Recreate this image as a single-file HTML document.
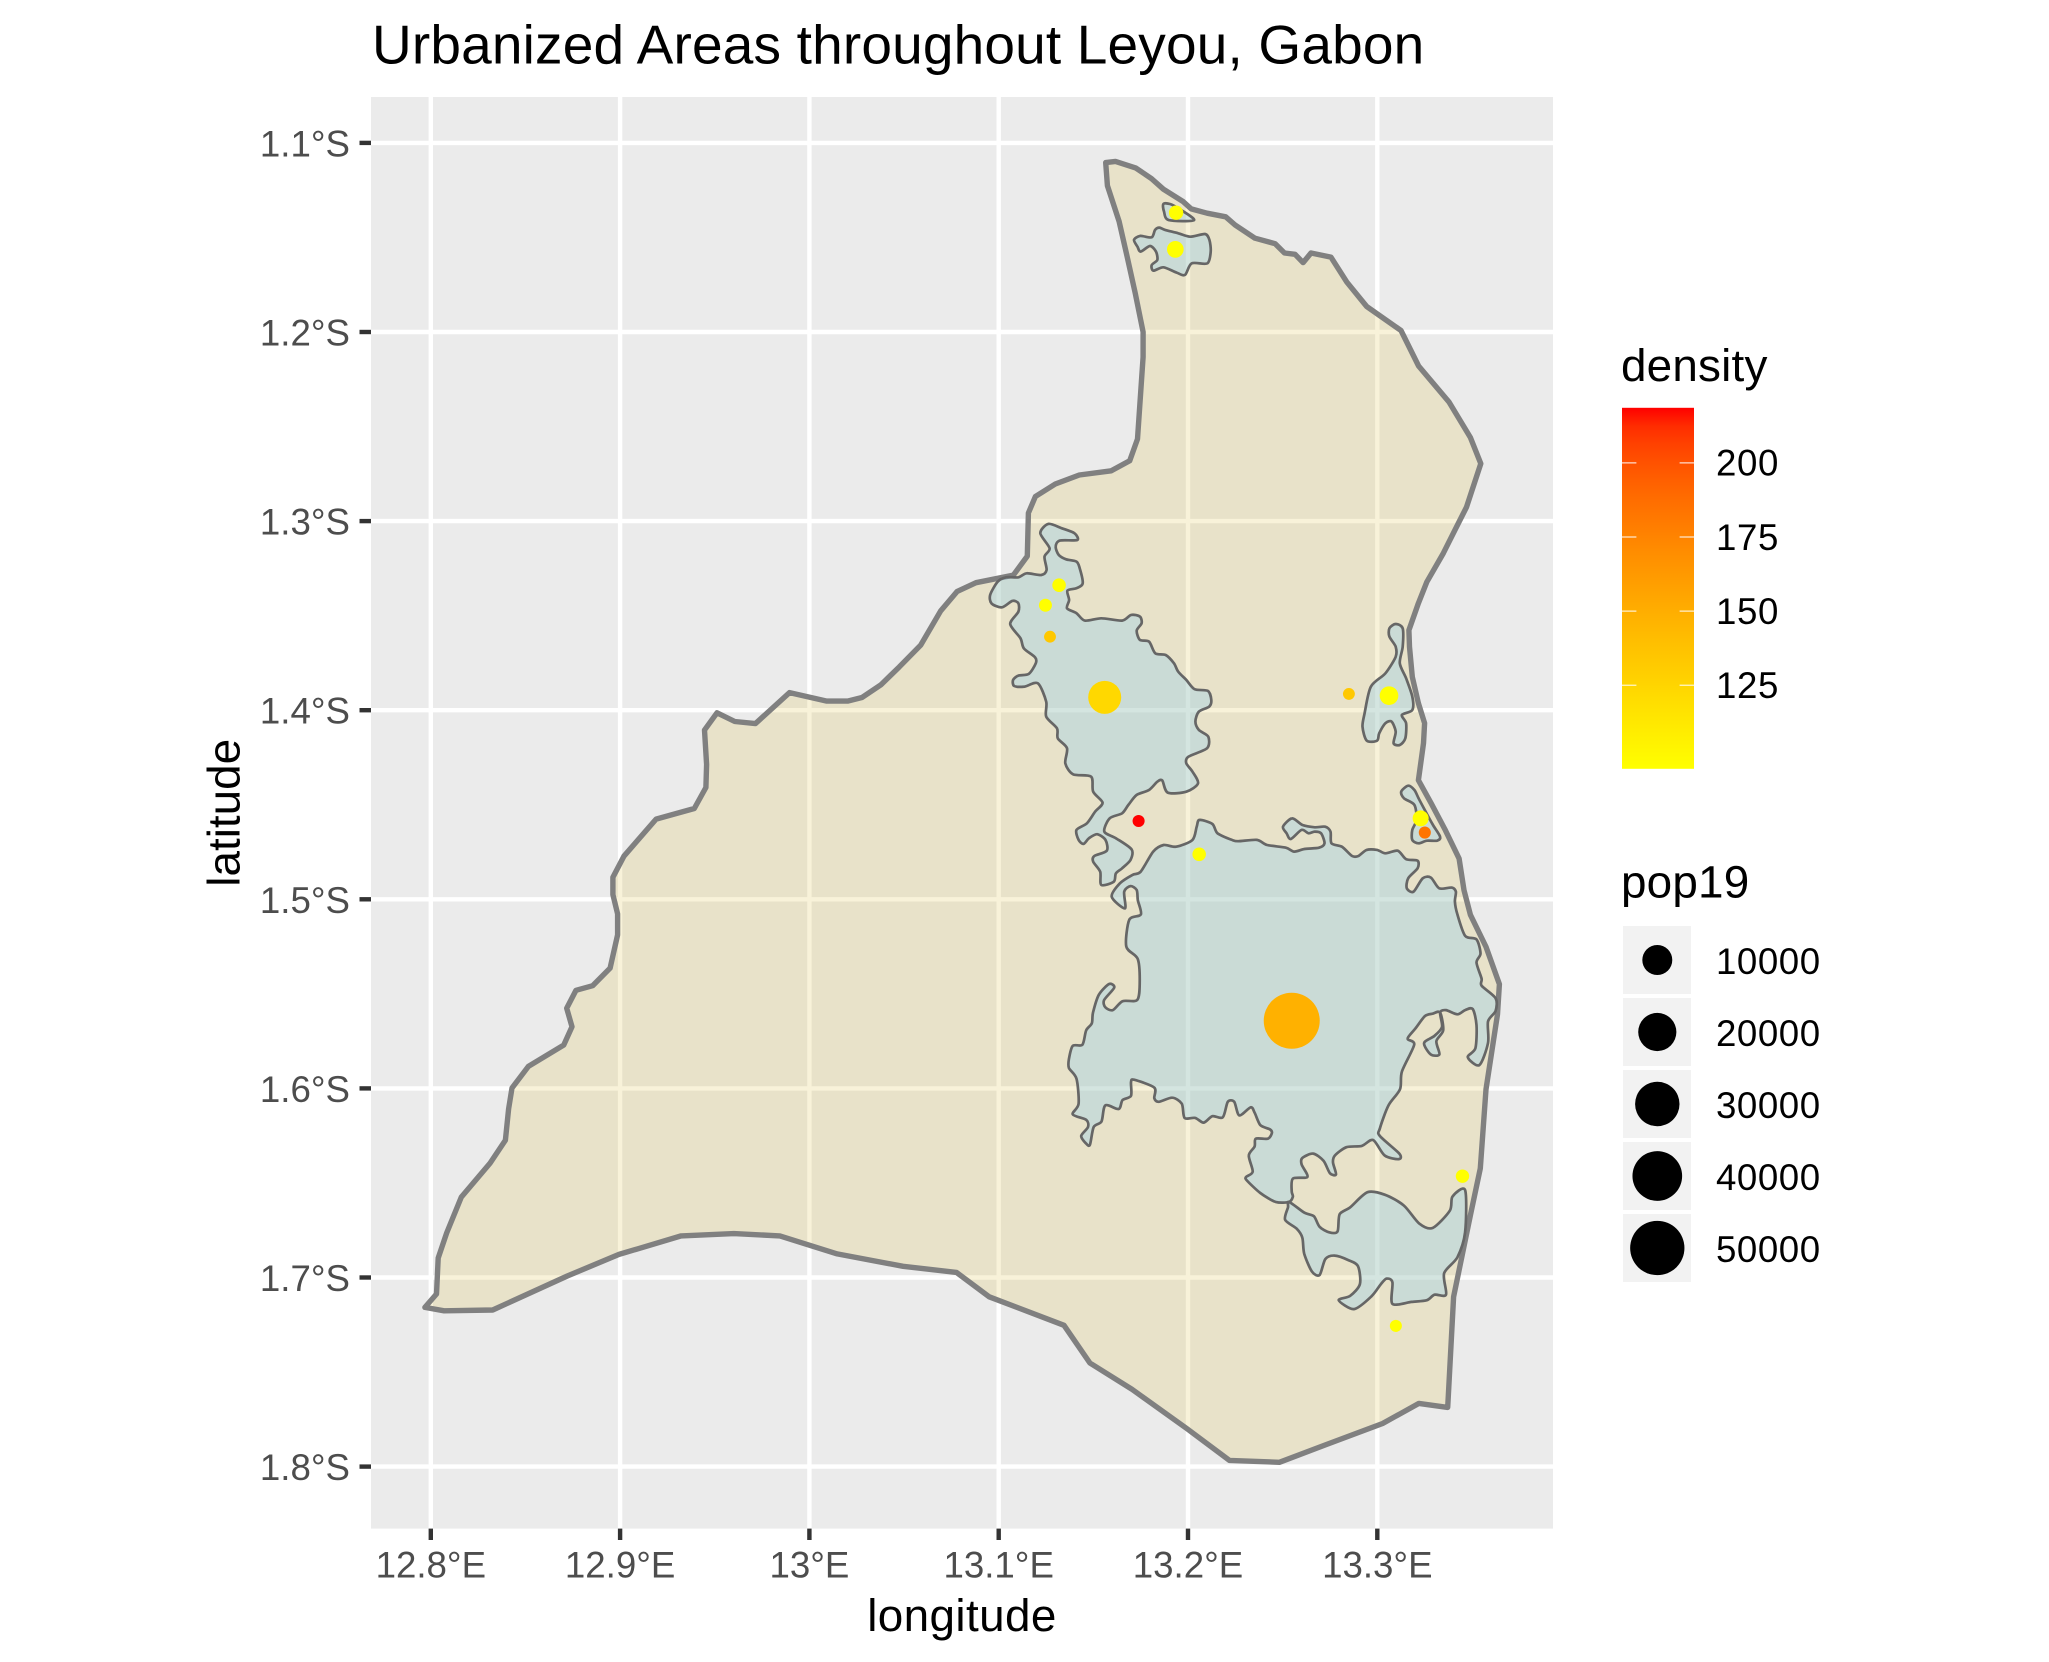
<!DOCTYPE html>
<html lang="en">
<head>
<meta charset="utf-8">
<title>Urbanized Areas throughout Leyou, Gabon</title>
<style>
html,body{margin:0;padding:0;background:#fff;}
svg{display:block;}
text{font-family:"Liberation Sans",Arial,sans-serif;}
</style>
</head>
<body>
<svg id="chart" xmlns="http://www.w3.org/2000/svg" width="2049" height="1662" viewBox="0 0 2049 1662">
  <defs>
    <linearGradient id="density-gradient" x1="0" y1="1" x2="0" y2="0"></linearGradient>
  </defs>
  <rect x="0" y="0" width="2049" height="1662" fill="#ffffff"/>
  <text x="372" y="63.5" font-size="55" letter-spacing="0.17" fill="#000000">Urbanized Areas throughout Leyou, Gabon</text>
  <rect x="371" y="97" width="1182" height="1431.6" fill="#ebebeb"/>
  <g id="grid"></g>
  <g id="regions"></g>
  <g id="places"></g>
  <g id="x-axis"></g>
  <g id="y-axis"></g>
  <text x="962" y="1631" font-size="45.83" letter-spacing="0.4" text-anchor="middle" fill="#000000">longitude</text>
  <text transform="translate(239.3 812.8) rotate(-90)" font-size="45.83" text-anchor="middle" fill="#000000">latitude</text>
  <text x="1621" y="381" font-size="45.83" letter-spacing="0.2" fill="#000000">density</text>
  <rect x="1622" y="407.8" width="72" height="361" fill="url(#density-gradient)"/>
  <g id="density-legend"></g>
  <text x="1621" y="897.6" font-size="45.83" letter-spacing="0.2" fill="#000000">pop19</text>
  <g id="size-legend"></g>
</svg>
<script>
const lonTicks = [12.8, 12.9, 13.0, 13.1, 13.2, 13.3];
const lonTickLabels = ["12.8°E", "12.9°E", "13°E", "13.1°E", "13.2°E", "13.3°E"];
const latTicks = [1.1, 1.2, 1.3, 1.4, 1.5, 1.6, 1.7, 1.8];
const latTickLabels = ["1.1°S", "1.2°S", "1.3°S", "1.4°S", "1.5°S", "1.6°S", "1.7°S", "1.8°S"];

const boundaryLon = [13.1565,13.1617,13.1723,13.1807,13.1870,13.1975,13.2017,13.2101,13.2199,13.2249,13.2354,13.2460,13.2510,13.2565,13.2608,13.2650,13.2755,13.2839,13.2944,13.3125,13.3218,13.3379,13.3492,13.3547,13.3471,13.3415,13.3349,13.3262,13.3217,13.3167,13.3170,13.3185,13.3217,13.3250,13.3244,13.3217,13.3284,13.3360,13.3432,13.3458,13.3492,13.3574,13.3645,13.3635,13.3574,13.3544,13.3493,13.3403,13.3372,13.3220,13.3028,13.2724,13.2483,13.2219,13.1997,13.1704,13.1482,13.1345,13.0950,13.0777,13.0495,13.0147,12.9844,12.9601,12.9322,12.8994,12.8721,12.8327,12.8070,12.7969,12.8030,12.8039,12.8084,12.8161,12.8313,12.8394,12.8411,12.8429,12.8516,12.8702,12.8746,12.8718,12.8767,12.8855,12.8947,12.8987,12.8987,12.8962,12.8962,12.9020,12.9190,12.9392,12.9453,12.9457,12.9446,12.9512,12.9606,12.9715,12.9895,13.0092,13.0202,13.0278,13.0377,13.0475,13.0588,13.0694,13.0781,13.0880,13.1077,13.1151,13.1157,13.1194,13.1299,13.1426,13.1595,13.1692,13.1733,13.1763,13.1763,13.1721,13.1679,13.1636,13.1574];
const boundaryLat = [1.1104,1.1098,1.1132,1.1189,1.1245,1.1311,1.1349,1.1372,1.1391,1.1434,1.1504,1.1533,1.1582,1.1589,1.1633,1.1582,1.1604,1.1736,1.1865,1.1992,1.2180,1.2370,1.2558,1.2696,1.2926,1.3037,1.3169,1.3321,1.3434,1.3577,1.3665,1.3824,1.3963,1.4069,1.4175,1.4370,1.4492,1.4635,1.4785,1.4952,1.5082,1.5251,1.5449,1.5608,1.6005,1.6423,1.6666,1.7102,1.7687,1.7666,1.7772,1.7886,1.7977,1.7967,1.7801,1.7591,1.7452,1.7253,1.7102,1.6973,1.6941,1.6875,1.6780,1.6768,1.6780,1.6878,1.6992,1.7172,1.7176,1.7158,1.7087,1.6897,1.6764,1.6575,1.6395,1.6274,1.6109,1.5998,1.5883,1.5771,1.5674,1.5576,1.5481,1.5457,1.5364,1.5188,1.5077,1.4975,1.4883,1.4772,1.4576,1.4520,1.4409,1.4287,1.4105,1.4014,1.4060,1.4071,1.3907,1.3952,1.3952,1.3933,1.3866,1.3771,1.3656,1.3474,1.3372,1.3326,1.3286,1.3185,1.2957,1.2870,1.2804,1.2756,1.2734,1.2681,1.2566,1.2132,1.2000,1.1794,1.1603,1.1415,1.1226];

const urbanCentralLon = [13.1262,13.1334,13.1400,13.1415,13.1323,13.1301,13.1317,13.1356,13.1411,13.1428,13.1444,13.1411,13.1363,13.1372,13.1361,13.1411,13.1455,13.1542,13.1652,13.1700,13.1746,13.1755,13.1729,13.1746,13.1794,13.1827,13.1882,13.1926,13.1948,13.1991,13.2035,13.2105,13.2123,13.2112,13.2057,13.2039,13.2057,13.2107,13.2101,13.2002,13.1991,13.2024,13.2053,13.1991,13.1893,13.1864,13.1838,13.1794,13.1729,13.1685,13.1652,13.1586,13.1558,13.1619,13.1702,13.1696,13.1652,13.1619,13.1608,13.1542,13.1536,13.1499,13.1505,13.1571,13.1564,13.1520,13.1477,13.1448,13.1422,13.1411,13.1466,13.1510,13.1549,13.1499,13.1488,13.1393,13.1352,13.1361,13.1312,13.1308,13.1251,13.1251,13.1207,13.1137,13.1082,13.1076,13.1104,13.1159,13.1196,13.1192,13.1133,13.1115,13.1061,13.1104,13.1104,13.1072,13.1017,13.0962,13.0955,13.0995,13.1039,13.1104,13.1148,13.1225,13.1253,13.1242,13.1269,13.1220];
const urbanCentralLat = [1.3015,1.3038,1.3064,1.3100,1.3103,1.3135,1.3179,1.3202,1.3214,1.3249,1.3329,1.3355,1.3368,1.3417,1.3461,1.3487,1.3526,1.3514,1.3526,1.3496,1.3505,1.3540,1.3579,1.3628,1.3637,1.3699,1.3708,1.3752,1.3796,1.3840,1.3889,1.3898,1.3946,1.3981,1.4008,1.4060,1.4104,1.4140,1.4201,1.4246,1.4281,1.4325,1.4387,1.4431,1.4436,1.4372,1.4378,1.4422,1.4448,1.4501,1.4545,1.4572,1.4642,1.4677,1.4736,1.4792,1.4836,1.4863,1.4907,1.4924,1.4854,1.4801,1.4771,1.4743,1.4686,1.4656,1.4677,1.4707,1.4686,1.4633,1.4598,1.4536,1.4489,1.4431,1.4351,1.4339,1.4281,1.4201,1.4149,1.4096,1.4034,1.3955,1.3858,1.3875,1.3872,1.3840,1.3817,1.3808,1.3752,1.3720,1.3673,1.3620,1.3544,1.3479,1.3435,1.3422,1.3456,1.3435,1.3390,1.3320,1.3297,1.3297,1.3276,1.3285,1.3258,1.3188,1.3144,1.3064];

const urbanEastLon = [13.3097,13.3134,13.3134,13.3119,13.3152,13.3185,13.3185,13.3130,13.3152,13.3148,13.3119,13.3086,13.3097,13.3075,13.3043,13.3010,13.2999,13.2944,13.2922,13.2933,13.2966,13.3043,13.3097,13.3097,13.3064,13.3064];
const urbanEastLat = [1.3544,1.3567,1.3664,1.3752,1.3831,1.3928,1.3999,1.4025,1.4069,1.4149,1.4184,1.4175,1.4113,1.4060,1.4069,1.4122,1.4161,1.4161,1.4087,1.4016,1.3875,1.3805,1.3717,1.3664,1.3611,1.3567];

const urbanCoastLon = [13.3163,13.3196,13.3218,13.3251,13.3294,13.3332,13.3316,13.3262,13.3218,13.3185,13.3185,13.3207,13.3196,13.3141,13.3126];
const urbanCoastLat = [1.4399,1.4422,1.4466,1.4528,1.4607,1.4669,1.4690,1.4690,1.4704,1.4686,1.4633,1.4580,1.4501,1.4466,1.4431];

const urbanMainLon = [13.2061,13.2129,13.2156,13.2232,13.2265,13.2364,13.2418,13.2517,13.2561,13.2615,13.2692,13.2721,13.2703,13.2670,13.2637,13.2600,13.2543,13.2521,13.2502,13.2550,13.2605,13.2670,13.2725,13.2753,13.2758,13.2813,13.2867,13.2900,13.2944,13.2999,13.3043,13.3108,13.3152,13.3213,13.3213,13.3163,13.3156,13.3191,13.3240,13.3283,13.3327,13.3393,13.3415,13.3410,13.3423,13.3464,13.3524,13.3545,13.3524,13.3551,13.3551,13.3625,13.3625,13.3585,13.3585,13.3539,13.3478,13.3518,13.3524,13.3504,13.3464,13.3423,13.3363,13.3332,13.3342,13.3302,13.3247,13.3282,13.3328,13.3312,13.3348,13.3332,13.3292,13.3251,13.3201,13.3160,13.3195,13.3130,13.3120,13.3059,13.3013,13.3013,13.3116,13.3114,13.3039,13.2978,13.2918,13.2837,13.2776,13.2766,13.2782,13.2750,13.2716,13.2661,13.2604,13.2600,13.2631,13.2554,13.2548,13.2554,13.2534,13.2463,13.2382,13.2311,13.2307,13.2342,13.2321,13.2352,13.2358,13.2422,13.2443,13.2433,13.2382,13.2352,13.2331,13.2271,13.2244,13.2210,13.2184,13.2129,13.2083,13.2038,13.1982,13.1967,13.1917,13.1846,13.1822,13.1822,13.1715,13.1699,13.1699,13.1654,13.1634,13.1563,13.1543,13.1502,13.1482,13.1462,13.1436,13.1472,13.1462,13.1391,13.1422,13.1411,13.1371,13.1371,13.1391,13.1442,13.1462,13.1492,13.1498,13.1529,13.1583,13.1610,13.1557,13.1563,13.1603,13.1654,13.1731,13.1745,13.1735,13.1674,13.1690,13.1751,13.1735,13.1729,13.1696,13.1663,13.1667,13.1597,13.1641,13.1707,13.1750,13.1816,13.1871,13.1937,13.2024,13.2046];
const urbanMainLat = [1.4580,1.4602,1.4651,1.4686,1.4693,1.4686,1.4713,1.4727,1.4748,1.4734,1.4727,1.4704,1.4651,1.4642,1.4651,1.4633,1.4681,1.4651,1.4616,1.4572,1.4607,1.4619,1.4616,1.4642,1.4704,1.4722,1.4771,1.4771,1.4739,1.4739,1.4757,1.4743,1.4788,1.4796,1.4836,1.4889,1.4942,1.4960,1.4889,1.4885,1.4942,1.4938,1.4960,1.5012,1.5080,1.5193,1.5212,1.5287,1.5335,1.5420,1.5457,1.5523,1.5590,1.5646,1.5760,1.5877,1.5835,1.5788,1.5665,1.5580,1.5586,1.5608,1.5586,1.5599,1.5675,1.5722,1.5760,1.5820,1.5820,1.5750,1.5693,1.5599,1.5605,1.5618,1.5684,1.5737,1.5769,1.5911,1.6005,1.6090,1.6213,1.6251,1.6345,1.6374,1.6355,1.6273,1.6304,1.6311,1.6355,1.6392,1.6455,1.6449,1.6383,1.6345,1.6368,1.6402,1.6468,1.6477,1.6544,1.6572,1.6600,1.6600,1.6553,1.6487,1.6468,1.6440,1.6355,1.6307,1.6266,1.6266,1.6236,1.6217,1.6194,1.6128,1.6100,1.6143,1.6071,1.6071,1.6153,1.6147,1.6181,1.6156,1.6156,1.6081,1.6049,1.6071,1.6052,1.5996,1.5954,1.5967,1.6039,1.6062,1.6109,1.6090,1.6175,1.6204,1.6298,1.6292,1.6251,1.6204,1.6166,1.6137,1.6081,1.5949,1.5892,1.5845,1.5775,1.5769,1.5693,1.5656,1.5599,1.5505,1.5448,1.5467,1.5533,1.5571,1.5586,1.5539,1.5533,1.5448,1.5316,1.5250,1.5108,1.5080,1.5004,1.4951,1.4930,1.4960,1.5048,1.4986,1.4915,1.4871,1.4854,1.4748,1.4713,1.4722,1.4686,1.4616];

const urbanSouthLon = [13.2534,13.2614,13.2665,13.2695,13.2746,13.2790,13.2801,13.2857,13.2948,13.3039,13.3140,13.3221,13.3292,13.3383,13.3397,13.3464,13.3464,13.3423,13.3353,13.3363,13.3302,13.3262,13.3181,13.3080,13.3080,13.3049,13.3019,13.2968,13.2877,13.2796,13.2857,13.2908,13.2898,13.2847,13.2776,13.2726,13.2695,13.2655,13.2614,13.2604,13.2574,13.2513,13.2528];
const urbanSouthLat = [1.6600,1.6657,1.6676,1.6732,1.6761,1.6757,1.6666,1.6629,1.6549,1.6562,1.6619,1.6714,1.6738,1.6647,1.6572,1.6538,1.6761,1.6893,1.6978,1.7091,1.7091,1.7120,1.7129,1.7139,1.7025,1.7006,1.7035,1.7101,1.7167,1.7120,1.7097,1.7035,1.6940,1.6908,1.6884,1.6902,1.6987,1.6969,1.6874,1.6789,1.6742,1.6695,1.6629];

const urbanNorthTipLon = [13.1870,13.1905,13.1949,13.2032,13.1898,13.1873];
const urbanNorthTipLat = [1.1323,1.1323,1.1346,1.1408,1.1408,1.1363];

const urbanNorthLon = [13.1849,13.1879,13.1949,13.2011,13.2090,13.2113,13.2120,13.2102,13.2019,13.1984,13.1940,13.1870,13.1817,13.1808,13.1838,13.1831,13.1799,13.1750,13.1733,13.1715,13.1747,13.1808,13.1826];
const urbanNorthLat = [1.1448,1.1460,1.1478,1.1496,1.1482,1.1513,1.1575,1.1637,1.1637,1.1698,1.1686,1.1658,1.1676,1.1646,1.1619,1.1575,1.1545,1.1575,1.1549,1.1513,1.1492,1.1499,1.1460];

const placeLon = [13.1937,13.1933,13.1319,13.1247,13.1271,13.1560,13.2850,13.3062,13.3229,13.3251,13.1739,13.2059,13.2548,13.3450,13.3098];
const placeLat = [1.1369,1.1563,1.3339,1.3445,1.3611,1.3932,1.3914,1.3923,1.4572,1.4647,1.4586,1.4762,1.5642,1.6464,1.7256];
const placePop = [800,1350,670,600,520,13300,520,2030,1160,530,530,670,54000,650,530];
const placeDensity = [97,97,97,97,133,123,133,97,97,184,218.5,97,148,97,97];

const densityBreaks = [200, 175, 150, 125];
const densityDomain = [96.8, 218.5];
const popBreaks = [10000, 20000, 30000, 40000, 50000];
const popDomain = [500, 54000];

const SVG_NS = "http://www.w3.org/2000/svg";
const lonToX = lon => 430.8 + (lon - 12.8) * 1893;
const latToY = lat => 142.9 + (lat - 1.1) * 1891;
const densityToY = v => 685.2 - (v - 125) * (74.1 / 25);
const popToDiameter = p => 11 + 45 * Math.sqrt(Math.max(0, p - popDomain[0]) / (popDomain[1] - popDomain[0]));

function make(tag, attrs, parent) {
  const el = document.createElementNS(SVG_NS, tag);
  for (const k in attrs) el.setAttribute(k, attrs[k]);
  parent.appendChild(el);
  return el;
}

function labToRgb(L, a, b) {
  const fy = (L + 16) / 116, fx = fy + a / 500, fz = fy - b / 200;
  const f = t => (t > 6 / 29 ? t * t * t : 3 * (6 / 29) * (6 / 29) * (t - 4 / 29));
  const X = 0.95047 * f(fx), Y = f(fy), Z = 1.08883 * f(fz);
  const lin = [
    3.2406 * X - 1.5372 * Y - 0.4986 * Z,
    -0.9689 * X + 1.8758 * Y + 0.0415 * Z,
    0.0557 * X - 0.204 * Y + 1.057 * Z
  ];
  const out = lin.map(c => {
    const v = c <= 0.0031308 ? 12.92 * c : 1.055 * Math.pow(Math.max(c, 0), 1 / 2.4) - 0.055;
    return Math.round(Math.min(1, Math.max(0, v)) * 255);
  });
  return "rgb(" + out.join(",") + ")";
}
function densityColor(v) {
  const t = Math.min(1, Math.max(0, (v - densityDomain[0]) / (densityDomain[1] - densityDomain[0])));
  return labToRgb(97.14 + (53.24 - 97.14) * t, -21.55 + (80.09 + 21.55) * t, 94.48 + (67.2 - 94.48) * t);
}

const gridG = document.getElementById("grid");
const xAxisG = document.getElementById("x-axis");
const yAxisG = document.getElementById("y-axis");

lonTicks.forEach((lon, i) => {
  const x = lonToX(lon);
  const line = make("line", { x1: x, x2: x, y1: 97, y2: 1528.6, stroke: "#ffffff", "stroke-width": 4.4 }, gridG);
  
  
  const tick = make("line", { x1: x, x2: x, y1: 1528.6, y2: 1540, stroke: "#333333", "stroke-width": 4.4 }, xAxisG);
  
  
  const label = make("text", { x: x, y: 1577.4, "font-size": 36.67, "text-anchor": "middle", fill: "#4d4d4d" }, xAxisG);
  label.textContent = lonTickLabels[i];
  
  
});

latTicks.forEach((lat, i) => {
  const y = latToY(lat);
  const line = make("line", { x1: 371, x2: 1553, y1: y, y2: y, stroke: "#ffffff", "stroke-width": 4.4 }, gridG);
  
  
  const tick = make("line", { x1: 359.5, x2: 371, y1: y, y2: y, stroke: "#333333", "stroke-width": 4.4 }, yAxisG);
  
  
  const label = make("text", { x: 350, y: y + 13.5, "font-size": 36.67, "text-anchor": "end", fill: "#4d4d4d" }, yAxisG);
  label.textContent = latTickLabels[i];
  
  
});

function polyPoints(lons, lats) {
  return lons.map((lon, i) => lonToX(lon).toFixed(1) + "," + latToY(lats[i]).toFixed(1)).join(" ");
}

function smoothPath(lons, lats) {
  const xs = lons.map(lonToX);
  const ys = lats.map(latToY);
  const n = xs.length;
  const k = 0.14;
  let d = "M" + xs[0].toFixed(1) + " " + ys[0].toFixed(1);
  for (let i = 0; i < n; i++) {
    const p0 = (i - 1 + n) % n, p1 = i, p2 = (i + 1) % n, p3 = (i + 2) % n;
    const c1x = xs[p1] + (xs[p2] - xs[p0]) * k;
    const c1y = ys[p1] + (ys[p2] - ys[p0]) * k;
    const c2x = xs[p2] - (xs[p3] - xs[p1]) * k;
    const c2y = ys[p2] - (ys[p3] - ys[p1]) * k;
    d += "C" + c1x.toFixed(1) + " " + c1y.toFixed(1) + " " + c2x.toFixed(1) + " " + c2y.toFixed(1) + " " + xs[p2].toFixed(1) + " " + ys[p2].toFixed(1);
  }
  return d + "Z";
}

const regionsG = document.getElementById("regions");
const boundaryShape = make("polygon", {
  points: polyPoints(boundaryLon, boundaryLat),
  fill: "rgb(220,190,65)", "fill-opacity": 0.2,
  stroke: "#808080", "stroke-width": 5.4, "stroke-linejoin": "round"
}, regionsG);



const urbanLons = [urbanCentralLon, urbanEastLon, urbanCoastLon, urbanMainLon, urbanSouthLon, urbanNorthTipLon, urbanNorthLon];
const urbanLats = [urbanCentralLat, urbanEastLat, urbanCoastLat, urbanMainLat, urbanSouthLat, urbanNorthTipLat, urbanNorthLat];
urbanLons.forEach((lons, i) => {
  const shape = make("path", {
    d: smoothPath(lons, urbanLats[i]),
    fill: "rgb(157,211,236)", "fill-opacity": 0.4,
    stroke: "#666666", "stroke-width": 2.7, "stroke-linejoin": "round"
  }, regionsG);
  
  
});

const placesG = document.getElementById("places");
placeLon.forEach((lon, i) => {
  const dot = make("circle", {
    cx: lonToX(lon), cy: latToY(placeLat[i]),
    r: popToDiameter(placePop[i]) / 2,
    fill: densityColor(placeDensity[i])
  }, placesG);
  
  
});

const grad = document.getElementById("density-gradient");
for (let i = 0; i <= 20; i++) {
  make("stop", {
    offset: i / 20,
    "stop-color": densityColor(densityDomain[0] + (densityDomain[1] - densityDomain[0]) * i / 20)
  }, grad);
}

const densityG = document.getElementById("density-legend");
densityBreaks.forEach(v => {
  const y = densityToY(v);
  const left = make("line", { x1: 1622, x2: 1636.4, y1: y, y2: y, stroke: "#ffffff", "stroke-width": 1 }, densityG);
  
  
  const right = make("line", { x1: 1679.6, x2: 1694, y1: y, y2: y, stroke: "#ffffff", "stroke-width": 1 }, densityG);
  
  
  const label = make("text", { x: 1716, y: y + 12.8, "font-size": 36.67, "letter-spacing": 0.6, fill: "#000000" }, densityG);
  label.textContent = String(v);
  
  
});

const sizeG = document.getElementById("size-legend");
popBreaks.forEach((p, i) => {
  const cy = 960 + i * 72;
  const key = make("rect", { x: 1623, y: cy - 34, width: 68, height: 68, fill: "#f2f2f2" }, sizeG);
  
  
  const dot = make("circle", { cx: 1657.3, cy: cy, r: popToDiameter(p) / 2, fill: "#000000" }, sizeG);
  
  
  const label = make("text", { x: 1716, y: cy + 14, "font-size": 36.67, "letter-spacing": 0.55, fill: "#000000" }, sizeG);
  label.textContent = String(p);
  
  
});
</script>
</body>
</html>
